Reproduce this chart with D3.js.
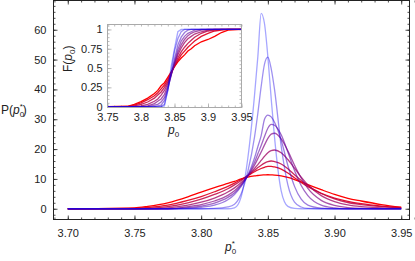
<!DOCTYPE html>
<html>
<head>
<meta charset="utf-8">
<script src="https://cdn.jsdelivr.net/npm/d3@7"></script>
<style>
  body { margin: 0; background: #fff; }
  svg { display: block; font-family: "Liberation Sans", Arial, sans-serif; }
  .tick text { fill: #222; font-size: 11px; }
</style>
</head>
<body>
<svg id="chart" width="415" height="261"></svg>
<script>
// main plot: P(p0*) curves, red (broad) -> light blue (narrow)
var pdfX = [3.70, 3.75, 3.76, 3.775, 3.79, 3.80, 3.81, 3.82, 3.825, 3.83, 3.835, 3.84, 3.8425, 3.845, 3.8475, 3.85, 3.8525, 3.855, 3.86, 3.865, 3.87, 3.875, 3.88, 3.89, 3.90, 3.91, 3.92, 3.935, 3.95];
var pdf0 = [0, 0.3, 0.8, 2.0, 4.0, 5.6, 7.1, 8.5, 9.2, 10.0, 10.6, 11.0, 11.15, 11.3, 11.35, 11.4, 11.35, 11.3, 11.0, 10.5, 9.8, 9.0, 8.1, 6.4, 4.8, 3.5, 2.6, 1.4, 0.5];
var pdf1 = [0, 0.1, 0.4, 1.2, 2.8, 4.1, 5.7, 7.5, 8.6, 9.8, 11.1, 12.4, 13.0, 13.5, 13.9, 14.2, 14.2, 14.0, 13.3, 12.0, 10.4, 8.8, 7.4, 5.2, 3.6, 2.5, 1.7, 0.9, 0.4];
var pdf2 = [0, 0, 0.1, 0.7, 2.0, 3.2, 4.8, 6.7, 8.0, 9.5, 11.2, 12.9, 13.8, 14.6, 15.3, 15.8, 16.0, 15.8, 15.0, 13.4, 11.4, 9.5, 7.8, 5.1, 3.3, 2.1, 1.4, 0.7, 0.3];
var pdf3 = [0, 0, 0, 0.3, 1.2, 2.2, 3.6, 5.6, 7.0, 8.8, 11.0, 13.5, 14.8, 16.2, 17.6, 18.8, 19.5, 19.7, 18.8, 16.5, 13.6, 10.6, 8.0, 4.4, 2.4, 1.3, 0.7, 0.3, 0.1];
var pdf4 = [0, 0, 0, 0, 0.7, 1.4, 2.6, 4.5, 6.0, 8.2, 11.0, 14.6, 16.8, 19.0, 21.4, 23.6, 25.0, 25.3, 23.4, 19.4, 14.6, 10.3, 6.8, 2.8, 1.1, 0.4, 0.1, 0, 0];
var pdf5 = [0, 0, 0, 0, 0.4, 0.9, 1.9, 3.8, 5.4, 7.8, 11.0, 15.6, 18.4, 21.2, 24.2, 27.0, 28.3, 28.0, 24.8, 19.0, 12.8, 7.8, 4.4, 1.2, 0.3, 0, 0, 0, 0];
var pdf6 = [0, 0, 0, 0, 0.1, 0.5, 1.2, 3.0, 4.8, 7.5, 11.2, 17.0, 20.8, 24.5, 30.0, 31.4, 30.8, 29.0, 23.0, 14.5, 7.5, 3.2, 1.2, 0.2, 0, 0, 0, 0, 0];
var pdf7 = [0, 0, 0, 0, 0, 0, 0.1, 0.6, 1.5, 5.0, 12.5, 24.0, 32.0, 41.0, 48.5, 50.8, 47.0, 40.0, 21.0, 8.0, 2.2, 0.6, 0.1, 0, 0, 0, 0, 0, 0];
var pdf8 = [0, 0, 0, 0, 0, 0, 0, 0, 0.3, 4.0, 17.0, 38.0, 51.0, 65.5, 62.0, 51.0, 37.0, 24.0, 6.0, 0.8, 0.1, 0, 0, 0, 0, 0, 0, 0, 0];
var pdfSeries = [pdf0, pdf1, pdf2, pdf3, pdf4, pdf5, pdf6, pdf7, pdf8];

// inset: F(p0)
var cdfX = [3.75, 3.78, 3.79, 3.80, 3.81, 3.82, 3.825, 3.83, 3.835, 3.84, 3.845, 3.85, 3.855, 3.86, 3.865, 3.87, 3.875, 3.88, 3.89, 3.90, 3.91, 3.92, 3.93, 3.95];
var cdf0 = [0, 0.005, 0.03, 0.065, 0.11, 0.17, 0.21, 0.27, 0.31, 0.38, 0.45, 0.52, 0.58, 0.63, 0.67, 0.72, 0.75, 0.79, 0.84, 0.87, 0.91, 0.96, 0.99, 1];
var cdf1 = [0, 0, 0.02, 0.05, 0.09, 0.14, 0.18, 0.23, 0.28, 0.35, 0.44, 0.52, 0.6, 0.67, 0.72, 0.77, 0.81, 0.85, 0.91, 0.95, 0.98, 0.99, 1, 1];
var cdf2 = [0, 0, 0.01, 0.03, 0.06, 0.11, 0.15, 0.19, 0.25, 0.32, 0.43, 0.53, 0.63, 0.71, 0.77, 0.82, 0.86, 0.9, 0.95, 0.98, 0.99, 1, 1, 1];
var cdf3 = [0, 0, 0, 0.01, 0.03, 0.07, 0.1, 0.15, 0.21, 0.3, 0.42, 0.55, 0.67, 0.76, 0.83, 0.88, 0.91, 0.94, 0.97, 0.99, 1, 1, 1, 1];
var cdf4 = [0, 0, 0, 0, 0.01, 0.04, 0.07, 0.1, 0.16, 0.27, 0.41, 0.56, 0.7, 0.8, 0.87, 0.92, 0.95, 0.97, 0.99, 1, 1, 1, 1, 1];
var cdf5 = [0, 0, 0, 0, 0, 0.02, 0.03, 0.06, 0.12, 0.24, 0.4, 0.58, 0.74, 0.85, 0.91, 0.95, 0.97, 0.99, 1, 1, 1, 1, 1, 1];
var cdf6 = [0, 0, 0, 0, 0, 0, 0.01, 0.02, 0.08, 0.22, 0.42, 0.62, 0.8, 0.9, 0.96, 0.99, 1, 1, 1, 1, 1, 1, 1, 1];
var cdf7 = [0, 0, 0, 0, 0, 0, 0, 0, 0.03, 0.2, 0.45, 0.72, 0.88, 0.97, 1, 1, 1, 1, 1, 1, 1, 1, 1, 1];
var cdf8 = [0, 0, 0, 0, 0, 0, 0, 0, 0.01, 0.22, 0.52, 0.75, 0.97, 1, 1, 1, 1, 1, 1, 1, 1, 1, 1, 1];
var cdfSeries = [cdf0, cdf1, cdf2, cdf3, cdf4, cdf5, cdf6, cdf7, cdf8];

var mainXTicks = [3.70, 3.75, 3.80, 3.85, 3.90, 3.95];
var mainYTicks = [0, 10, 20, 30, 40, 50, 60];
var insetXTicks = [3.75, 3.8, 3.85, 3.9, 3.95];
var insetYTicks = [0, 0.25, 0.5, 0.75, 1];

var svg = d3.select("#chart");

var colorOf = function(i) {
	var t = i / (pdfSeries.length - 1);
	return d3.interpolateRgb("#ff0000", "#0000ff")(t);
};
var opacityOf = function(i) {
	return 1 - 0.65 * i / (pdfSeries.length - 1);
};

// ---- main plot
var L = 53.5, R = 409.5, T = 0.5, B = 219.5;
var x = d3.scaleLinear().domain([3.6893, 3.9562]).range([L, R]);
var y = d3.scaleLinear().domain([-3.6, 69.8]).range([B, T]);

var frameColor = "#222";

var addAxis = function(g, axis, color) {
	g.call(axis);
	g.select(".domain").remove();
	g.selectAll(".tick line").attr("stroke", color).attr("stroke-width", 0.8);
};

var xMinor = d3.range(3.69, 3.9601, 0.01);
var yMinor = d3.range(-2, 69, 2);

addAxis(svg.append("g").attr("transform", "translate(0," + B + ")"),
	d3.axisBottom(x).tickValues(xMinor).tickSize(-2).tickFormat(""), frameColor);
addAxis(svg.append("g").attr("transform", "translate(0," + B + ")"),
	d3.axisBottom(x).tickValues(mainXTicks).tickSize(-4).tickPadding(10).tickFormat(d3.format(".2f")), frameColor);
addAxis(svg.append("g").attr("transform", "translate(0," + T + ")"),
	d3.axisTop(x).tickValues(xMinor).tickSize(-2).tickFormat(""), frameColor);
addAxis(svg.append("g").attr("transform", "translate(0," + T + ")"),
	d3.axisTop(x).tickValues(mainXTicks).tickSize(-4).tickFormat(""), frameColor);
addAxis(svg.append("g").attr("transform", "translate(" + L + ",0)"),
	d3.axisLeft(y).tickValues(yMinor).tickSize(-2).tickFormat(""), frameColor);
addAxis(svg.append("g").attr("transform", "translate(" + L + ",0)"),
	d3.axisLeft(y).tickValues(mainYTicks).tickSize(-4).tickPadding(7), frameColor);
addAxis(svg.append("g").attr("transform", "translate(" + R + ",0)"),
	d3.axisRight(y).tickValues(yMinor).tickSize(-2).tickFormat(""), frameColor);
addAxis(svg.append("g").attr("transform", "translate(" + R + ",0)"),
	d3.axisRight(y).tickValues(mainYTicks).tickSize(-4).tickFormat(""), frameColor);

var pdfLine = d3.line()
	.x(function(d, i) { return x(pdfX[i]); })
	.y(function(d) { return y(d); })
	.curve(d3.curveMonotoneX);

svg.append("g").selectAll("path").data(pdfSeries).join("path")
	.attr("d", pdfLine)
	.attr("fill", "none")
	.attr("stroke", function(d, i) { return colorOf(i); })
	.attr("stroke-opacity", function(d, i) { return opacityOf(i); })
	.attr("stroke-width", 1.3);

svg.append("rect").attr("x", L).attr("y", T).attr("width", R - L).attr("height", B - T)
	.attr("fill", "none").attr("stroke", frameColor).attr("stroke-width", 1);

// axis titles
var yTitle = svg.append("text").attr("x", 1).attr("y", 114).attr("font-size", 12).attr("fill", "#222");
yTitle.append("tspan").text("P(");
yTitle.append("tspan").attr("font-style", "italic").text("p");
yTitle.append("tspan").attr("font-size", 8).attr("dy", 3).text("0");
yTitle.append("tspan").attr("font-size", 8).attr("dx", -4.4).attr("dy", -8).text("*");
yTitle.append("tspan").attr("dy", 5).text(")");

var xTitle = svg.append("text").attr("x", 225).attr("y", 251).attr("font-size", 12).attr("fill", "#222");
xTitle.append("tspan").attr("font-style", "italic").text("p");
xTitle.append("tspan").attr("font-size", 8).attr("dy", 3).text("0");
xTitle.append("tspan").attr("font-size", 8).attr("dx", -4.4).attr("dy", -8).text("*");

// ---- inset
var iL = 107.5, iR = 241.5, iT = 24.5, iB = 107.5;
var ix = d3.scaleLinear().domain([3.75, 3.95]).range([iL, iR]);
var iy = d3.scaleLinear().domain([-0.011, 1.064]).range([iB, iT]);
var insetColor = "#aaa";

svg.append("rect").attr("x", iL).attr("y", iT).attr("width", iR - iL).attr("height", iB - iT)
	.attr("fill", "#fff");

var ixMinor = d3.range(3.75, 3.9501, 0.01);
var iyMinor = d3.range(0, 1.06, 0.05);

addAxis(svg.append("g").attr("transform", "translate(0," + iB + ")"),
	d3.axisBottom(ix).tickValues(ixMinor).tickSize(-2).tickFormat(""), insetColor);
addAxis(svg.append("g").attr("transform", "translate(0," + iB + ")"),
	d3.axisBottom(ix).tickValues(insetXTicks).tickSize(-4).tickPadding(6).tickFormat(d3.format("")), insetColor);
addAxis(svg.append("g").attr("transform", "translate(0," + iT + ")"),
	d3.axisTop(ix).tickValues(ixMinor).tickSize(-2).tickFormat(""), insetColor);
addAxis(svg.append("g").attr("transform", "translate(" + iL + ",0)"),
	d3.axisLeft(iy).tickValues(iyMinor).tickSize(-2).tickFormat(""), insetColor);
addAxis(svg.append("g").attr("transform", "translate(" + iL + ",0)"),
	d3.axisLeft(iy).tickValues(insetYTicks).tickSize(-4).tickPadding(5).tickFormat(d3.format("")), insetColor);
addAxis(svg.append("g").attr("transform", "translate(" + iR + ",0)"),
	d3.axisRight(iy).tickValues(iyMinor).tickSize(-2).tickFormat(""), insetColor);

var cdfLine = d3.line()
	.x(function(d, i) { return ix(cdfX[i]); })
	.y(function(d) { return iy(d); });

svg.append("g").selectAll("path").data(cdfSeries).join("path")
	.attr("d", cdfLine)
	.attr("fill", "none")
	.attr("stroke", function(d, i) { return colorOf(i); })
	.attr("stroke-opacity", function(d, i) { return opacityOf(i); })
	.attr("stroke-width", 1.3);

svg.append("rect").attr("x", iL).attr("y", iT).attr("width", iR - iL).attr("height", iB - iT)
	.attr("fill", "none").attr("stroke", insetColor).attr("stroke-width", 1);

var iyTitle = svg.append("text").attr("transform", "translate(72,72) rotate(-90)")
	.attr("font-size", 12).attr("fill", "#222");
iyTitle.append("tspan").text("F(");
iyTitle.append("tspan").attr("font-style", "italic").text("p");
iyTitle.append("tspan").attr("font-size", 8).attr("dy", 3).text("0");
iyTitle.append("tspan").attr("dy", -3).text(")");

var ixTitle = svg.append("text").attr("x", 168).attr("y", 134).attr("font-size", 12).attr("fill", "#222");
ixTitle.append("tspan").attr("font-style", "italic").text("p");
ixTitle.append("tspan").attr("font-size", 8).attr("dy", 3).text("0");
</script>
</body>
</html>
